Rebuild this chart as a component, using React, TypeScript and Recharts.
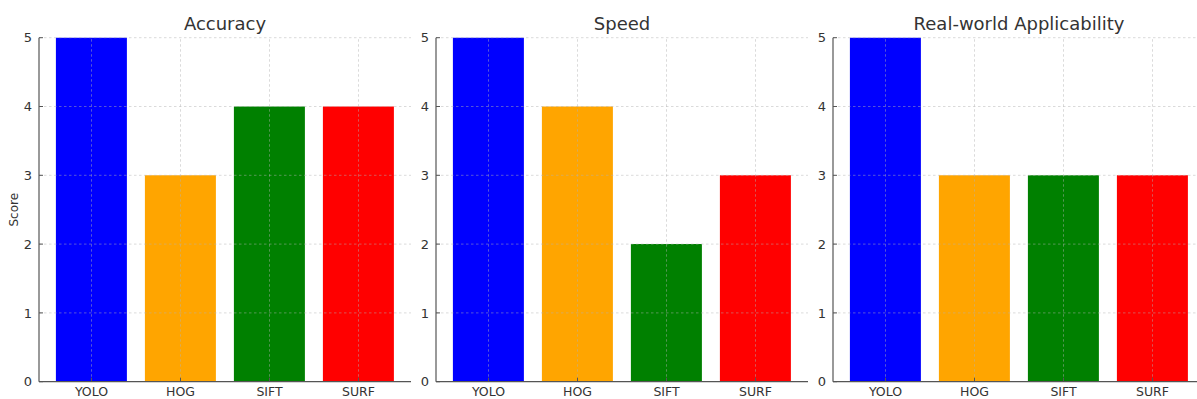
import React from "react";
import { Bar, BarChart, Cell, ReferenceLine, XAxis, YAxis } from "recharts";

const categories = ["YOLO", "HOG", "SIFT", "SURF"];
const accuracy = [5, 3, 4, 4];
const speed = [5, 4, 2, 3];
const applicability = [5, 3, 3, 3];
const yTicks = [0, 1, 2, 3, 4, 5];

const BAR_COLORS = ["#0000ff", "#ffa500", "#008000", "#ff0000"];
const FONT = "'DejaVu Sans', sans-serif";
const TEXT = "#333333";
const SPINE = "#555555";
const GRID = "#b0b0b0";

const PLOT_W = 372;
const PLOT_TOP = 37.7;
const PLOT_BOTTOM = 381.7;
const H = 399;
const AXIS_W = 40;

interface PanelProps {
  title: string;
  values: number[];
  plotLeft: number;
  showYLabel?: boolean;
}

function Panel({ title, values, plotLeft, showYLabel }: PanelProps) {
  const data = categories.map((name, i) => ({ name, score: values[i] }));
  return (
    <div style={{ position: "absolute", left: plotLeft - AXIS_W, top: 0 }}>
      <div
        style={{
          position: "absolute",
          left: AXIS_W,
          width: PLOT_W,
          top: 13,
          textAlign: "center",
          fontFamily: FONT,
          fontSize: 18,
          color: TEXT,
        }}
      >
        {title}
      </div>
      <BarChart
        width={AXIS_W + PLOT_W}
        height={H}
        data={data}
        margin={{ top: PLOT_TOP, right: 0, bottom: 0, left: 0 }}
        barCategoryGap="10%"
      >
        <XAxis
          dataKey="name"
          height={H - PLOT_BOTTOM}
          padding={{ left: 8, right: 8 }}
          stroke={SPINE}
          tick={{ fill: TEXT, fontSize: 12.5, fontFamily: FONT }}
          tickSize={-4}
          tickMargin={9}
          axisLine={{ stroke: SPINE, strokeWidth: 1.2 }}
          tickLine={{ stroke: SPINE }}
        />
        <YAxis
          width={AXIS_W}
          domain={[0, 5]}
          ticks={yTicks}
          stroke={SPINE}
          tick={{ fill: TEXT, fontSize: 13, fontFamily: FONT }}
          tickSize={-4}
          tickMargin={11}
          axisLine={{ stroke: SPINE, strokeWidth: 1.2 }}
          tickLine={{ stroke: SPINE }}
          label={
            showYLabel
              ? {
                  content: (p: any) => {
                    const vb = p.viewBox || {};
                    const cy = vb.y + vb.height / 2;
                    return (
                      <text
                        x={15}
                        y={cy}
                        transform={`rotate(-90, 15, ${cy})`}
                        textAnchor="middle"
                        dominantBaseline="central"
                        fill={TEXT}
                        fontSize={12}
                        fontFamily={FONT}
                      >
                        Score
                      </text>
                    );
                  },
                }
              : undefined
          }
        />
        <Bar dataKey="score" isAnimationActive={false}>
          {data.map((d, i) => (
            <Cell key={d.name} fill={BAR_COLORS[i]} />
          ))}
        </Bar>
        {yTicks.slice(1).map((t) => (
          <ReferenceLine
            key={`h${t}`}
            y={t}
            stroke={GRID}
            strokeOpacity={0.6}
            strokeDasharray="2.5 2.5"
            strokeWidth={0.8}
          />
        ))}
        {categories.map((c) => (
          <ReferenceLine
            key={`v${c}`}
            x={c}
            stroke={GRID}
            strokeOpacity={0.6}
            strokeDasharray="2.5 2.5"
            strokeWidth={0.8}
          />
        ))}
      </BarChart>
    </div>
  );
}

export default function App() {
  return (
    <div
      style={{
        position: "fixed",
        left: 0,
        top: 0,
        width: 1197,
        height: H,
        overflow: "hidden",
        background: "#ffffff",
      }}
    >
      <Panel title="Accuracy" values={accuracy} plotLeft={39} showYLabel />
      <Panel title="Speed" values={speed} plotLeft={436} />
      <Panel title="Real-world Applicability" values={applicability} plotLeft={833} />
    </div>
  );
}
